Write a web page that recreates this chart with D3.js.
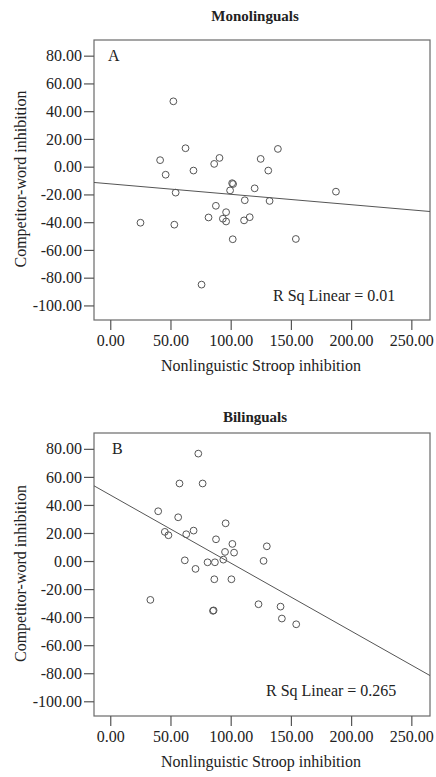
<!DOCTYPE html>
<html>
<head>
<meta charset="utf-8">
<script src="https://cdn.jsdelivr.net/npm/d3@7"></script>
<style>
  body { margin: 0; background: #fff; }
  text { font-family: "Liberation Serif", "Times New Roman", serif; fill: #222; }
</style>
</head>
<body>
<div id="chart"></div>
<script>
// values
const monoX = [52.4, 62.5, 41.4, 90.7, 86.3, 124.9, 139.2, 46.0, 69.1, 131.2, 102.0, 101.2, 99.5, 119.9, 54.3,
    111.7, 132.3, 187.4, 87.7, 96.2, 81.6, 93.5, 96.2, 111.1, 115.8, 25.1, 53.2, 101.7, 154.1, 75.8]
const monoY = [47.1, 13.3, 4.7, 6.3, 2.0, 5.6, 12.8, -5.8, -2.8, -2.8, -12.5, -11.9, -17.1, -15.6, -18.7,
    -24.2, -24.7, -18.0, -28.2, -32.8, -36.6, -37.5, -39.5, -38.7, -36.4, -40.4, -41.8, -52.3, -52.1, -85.0]

const biX = [73.1, 57.5, 76.7, 39.8, 56.4, 95.8, 45.3, 48.3, 63.1, 69.2, 87.8, 101.4, 130.0, 95.3, 102.8,
    93.9, 61.9, 80.8, 86.9, 127.3, 70.8, 86.4, 100.6, 33.3, 85.3, 85.8, 123.1, 141.4, 142.5, 154.4]
const biY = [76.6, 55.3, 55.3, 35.5, 31.2, 26.9, 20.8, 18.4, 19.1, 21.7, 15.5, 12.2, 10.5, 6.5, 6.0,
    1.0, 0.5, -0.9, -0.9, 0.1, -5.6, -13.0, -13.0, -27.7, -35.5, -35.2, -30.8, -32.5, -41.0, -45.1]

// fit lines [intercept, slope]
const monoFit = [-12.4, -0.075]
const biFit = [47.1, -0.485]

const xTicks = [0, 50, 100, 150, 200, 250]
const yTicks = [80, 60, 40, 20, 0, -20, -40, -60, -80, -100]
const xDomain = [-13.5, 265.5]
const yDomain = [-110.5, 91.3]

const width = 436, height = 777

const svg = d3.select("#chart")
    .append("svg")
    .attr("width", width)
    .attr("height", height)

const fmt = d => d.toFixed(2)

function drawPanel(cfg) {
    const x = d3.scaleLinear().domain(xDomain).range([94, 430])
    const y = d3.scaleLinear().domain(yDomain).range([cfg.bottom, cfg.top])
    const g = svg.append("g")

    g.append("rect")
        .attr("x", 94).attr("y", cfg.top)
        .attr("width", 336).attr("height", cfg.bottom - cfg.top)
        .attr("fill", "none")
        .attr("stroke", "#6a6a6a")
        .attr("stroke-width", 1.2)

    const yAxis = g.append("g")
        .attr("transform", "translate(94,0)")
        .call(d3.axisLeft(y).tickValues(yTicks).tickFormat(fmt).tickSize(10).tickPadding(2))
    const xAxis = g.append("g")
        .attr("transform", "translate(0," + cfg.bottom + ")")
        .call(d3.axisBottom(x).tickValues(xTicks).tickFormat(fmt).tickSize(10).tickPadding(5))

    for (const ax of [xAxis, yAxis]) {
        ax.select(".domain").remove()
        ax.selectAll("line").attr("stroke", "#555").attr("stroke-width", 1.2)
        ax.selectAll("text")
            .style("font-family", '"Liberation Serif", serif')
            .style("font-size", "16px")
            .attr("fill", "#222")
    }

    const clipId = "clip" + cfg.letter
    g.append("clipPath").attr("id", clipId)
        .append("rect")
        .attr("x", 94).attr("y", cfg.top)
        .attr("width", 336).attr("height", cfg.bottom - cfg.top)

    g.append("line")
        .attr("clip-path", "url(#" + clipId + ")")
        .attr("x1", x(xDomain[0])).attr("y1", y(cfg.fit[0] + cfg.fit[1] * xDomain[0]))
        .attr("x2", x(xDomain[1])).attr("y2", y(cfg.fit[0] + cfg.fit[1] * xDomain[1]))
        .attr("stroke", "#555")
        .attr("stroke-width", 1)

    g.append("g")
        .selectAll("circle")
        .data(d3.range(cfg.xs.length))
        .enter()
        .append("circle")
        .attr("cx", i => x(cfg.xs[i]))
        .attr("cy", i => y(cfg.ys[i]))
        .attr("r", 3.4)
        .attr("fill", "none")
        .attr("stroke", "#555")
        .attr("stroke-width", 1)

    g.append("text")
        .attr("x", 255).attr("y", cfg.titleY)
        .attr("text-anchor", "middle")
        .style("font-size", "15px")
        .style("font-weight", "bold")
        .text(cfg.title)

    g.append("text")
        .attr("x", cfg.letterX).attr("y", cfg.top + 21)
        .style("font-size", "16px")
        .text(cfg.letter)

    g.append("text")
        .attr("x", cfg.rsqX).attr("y", cfg.rsqY)
        .style("font-size", "16px")
        .text(cfg.rsq)

    g.append("text")
        .attr("x", 261).attr("y", cfg.bottom + 51)
        .attr("text-anchor", "middle")
        .style("font-size", "16px")
        .text("Nonlinguistic Stroop inhibition")

    g.append("text")
        .attr("transform", "translate(26," + ((cfg.top + cfg.bottom) / 2 - 1) + ") rotate(-90)")
        .attr("text-anchor", "middle")
        .style("font-size", "16px")
        .text("Competitor-word inhibition")
}

drawPanel({
    title: "Monolinguals", titleY: 21, letter: "A", letterX: 108,
    top: 40, bottom: 320, xs: monoX, ys: monoY, fit: monoFit,
    rsq: "R Sq Linear = 0.01", rsqX: 273, rsqY: 301
})

drawPanel({
    title: "Bilinguals", titleY: 421.5, letter: "B", letterX: 112,
    top: 433, bottom: 716, xs: biX, ys: biY, fit: biFit,
    rsq: "R Sq Linear = 0.265", rsqX: 266, rsqY: 696
})
</script>
</body>
</html>
